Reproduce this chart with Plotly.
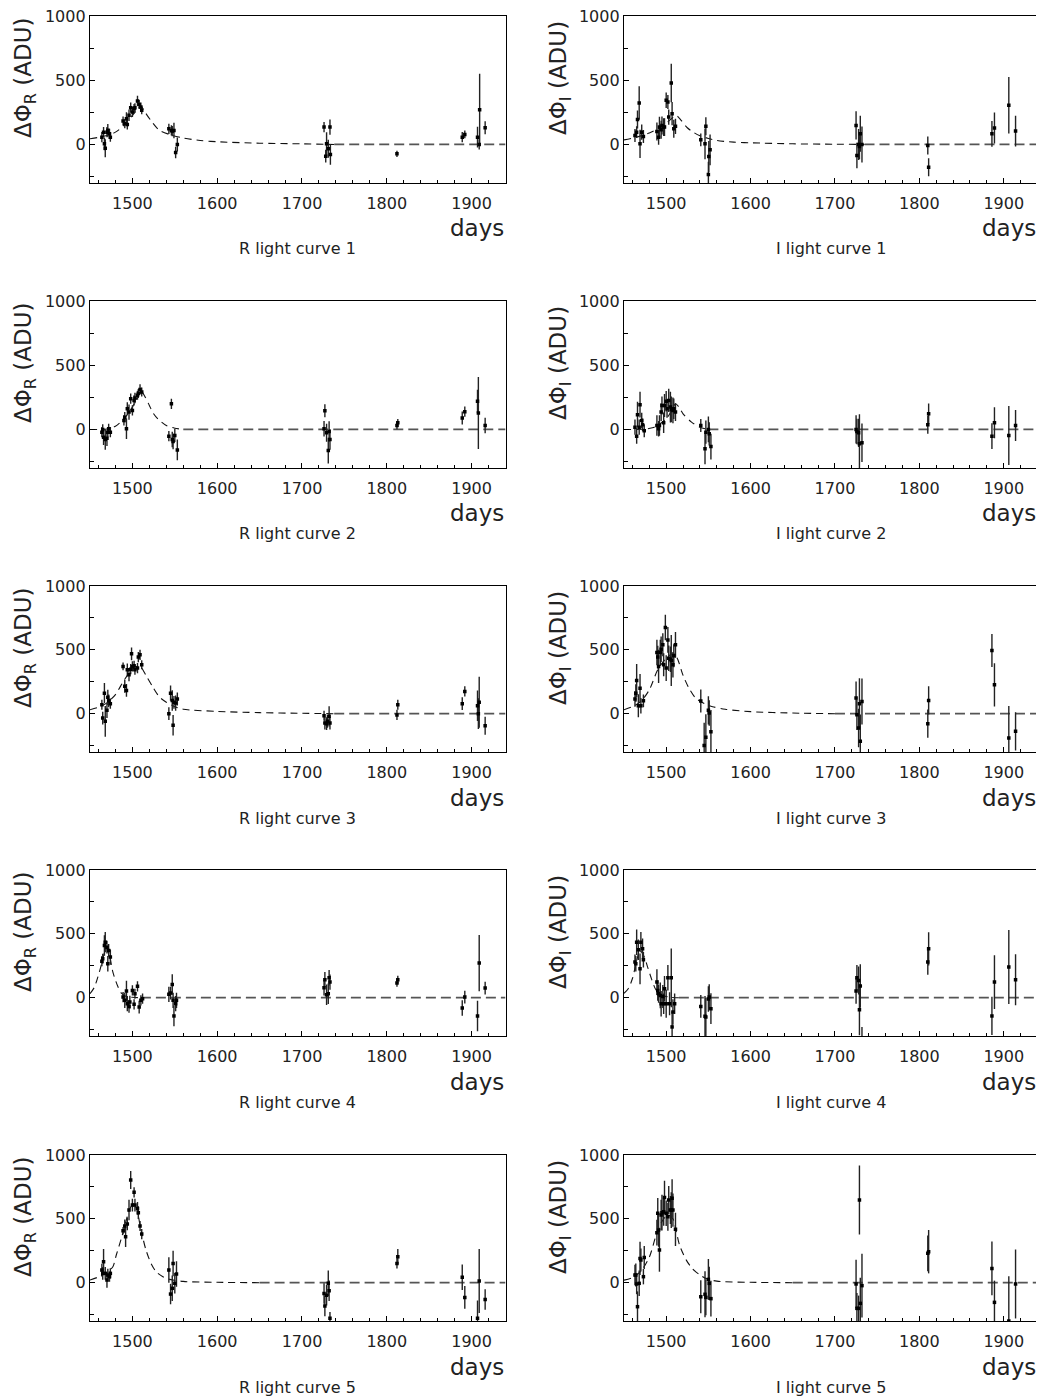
import plotly.graph_objects as go

# ---------------- data (days, delta flux, error) ----------------
R1_t = [1464,1466,1467,1468,1470,1471,1473,1474, 1489,1491,1493,1494,1496,1498,1500,1502,1503,1506,1508,1510,1511, 1543,1546,1547,1549,1551,1553, 1726,1728,1729,1731,1733,1733.5, 1812, 1889,1892, 1907,1909,1909.5, 1916]
R1_f = [57,96,5,-29,96,110,83,57, 182,161,200,156,227,286,253,279,286,339,312,292,266, 122,109,104,109,-62,0, 135,-91,5,-34,135,-78, -73, 57,78, 57,0,270, 130]
R1_e = [40,40,50,70,40,50,40,35, 35,35,50,40,45,40,40,35,35,40,35,35,30, 40,40,40,60,45,55, 40,50,90,70,60,80, 25, 40,30, 80,40,280, 50]
R1_ct = [1450,1460,1470,1480,1490,1500,1505,1510,1516,1524,1532,1545,1560,1580,1600,1650,1700,1738,1940]
R1_cf = [44,55,70,96,148,226,265,297,240,167,109,75,50,31,21,10,5,0,0]

I1_t = [1463,1465,1466,1468,1469,1471,1473, 1489,1491,1492,1494,1495,1497,1498,1500,1502,1503,1506,1507,1509,1511, 1541,1546,1547,1550,1550.5,1552, 1725,1726,1728,1729,1730,1732, 1810,1811, 1886,1889, 1906, 1914]
I1_f = [70,96,195,323,5,96,62, 101,57,135,115,148,135,135,344,331,213,479,240,122,141, 36,5,141,-234,-94,-42, 148,-86,0,-16,83,0, -8,-177, 83,128, 305, 104]
I1_e = [50,45,70,130,110,60,50, 70,60,80,70,70,70,70,60,55,60,150,90,70,60, 50,120,70,100,120,120, 110,100,120,100,140,140, 70,70, 100,120, 220, 120]
I1_ct = [1450,1465,1480,1490,1500,1508,1512,1518,1525,1532,1540,1550,1560,1580,1600,1650,1700,1735,1940]
I1_cf = [36,57,90,120,165,210,225,185,130,96,68,47,31,18,13,5,2,0,0]

R2_t = [1464,1465,1466,1468,1470,1471,1472,1474, 1490,1491,1493,1494,1496,1498,1500,1502,1503,1506,1507,1509,1511, 1543,1546,1547,1548,1550,1553, 1726,1727,1729,1731,1732,1733, 1812,1813, 1889,1892, 1907,1908, 1916]
R2_f = [-21,0,-60,-78,-68,-21,5,-21, 70,96,5,161,135,240,148,226,245,266,279,312,292, -52,200,-78,-94,-47,-159, 5,146,-26,-164,-16,-78, 31,52, 89,138, 219,128, 31]
R2_e = [40,40,60,80,60,40,40,40, 40,40,80,50,60,40,40,40,40,35,35,40,35, 40,40,60,60,50,80, 60,50,70,100,80,80, 30,30, 50,40, 90,280, 60]
R2_ct = [1450,1470,1480,1485,1490,1495,1500,1505,1510,1515,1520,1525,1530,1540,1550,1560,1940]
R2_cf = [0,3,25,50,83,125,174,240,300,253,187,122,83,31,10,0,0]

I2_t = [1463,1465,1466,1468,1469,1471,1472,1474, 1489,1491,1492,1494,1495,1497,1498,1500,1501,1503,1505,1506,1508,1509,1511, 1541,1546,1547,1550,1551,1553, 1725,1726,1728,1729,1732, 1810,1811, 1886,1889, 1906, 1914]
I2_f = [18,-52,115,18,193,70,36,-10, 31,5,31,135,187,52,187,219,161,226,174,156,148,161,135, 31,-151,-21,0,-34,-133, 0,-16,-26,-112,-104, 36,122, -52,52, -47, 31]
I2_e = [60,60,100,60,100,60,50,50, 80,60,80,70,70,80,90,80,70,90,120,100,100,80,70, 50,120,90,100,90,100, 110,100,110,230,150, 70,80, 100,120, 230, 120]
I2_ct = [1450,1475,1485,1490,1500,1505,1511,1515,1520,1530,1540,1550,1940]
I2_cf = [0,3,15,31,83,130,200,175,122,57,18,0,0]

R3_t = [1464,1465,1467,1468,1470,1471,1472,1474, 1489,1491,1493,1494,1496,1498,1499,1500,1502,1503,1506,1507,1509,1511, 1543,1545,1547,1548,1549,1551,1553, 1726,1727,1729,1730,1732,1733, 1812,1813, 1889,1892, 1907,1908,1909, 1916]
R3_f = [70,-34,161,-60,26,128,101,78, 370,214,182,344,305,349,469,370,375,344,357,443,461,383, 0,161,104,-91,89,83,115, -16,-73,-78,-60,-21,-73, -10,70, 78,174, 62,0,89, -94]
R3_e = [40,50,80,120,60,60,50,40, 30,50,50,50,50,40,50,40,40,40,40,40,40,35, 50,60,80,80,50,60,50, 40,50,50,50,80,50, 40,40, 50,40, 120,120,200, 70]
R3_ct = [1450,1460,1470,1480,1490,1500,1506,1510,1516,1524,1532,1540,1550,1560,1600,1650,1700,1738,1940]
R3_cf = [31,50,85,150,260,350,372,365,300,210,130,90,55,35,18,8,3,0,0]

I3_t = [1463,1464,1465,1467,1469,1470,1473, 1489,1490,1491,1493,1494,1496,1497,1499,1500,1502,1503,1505,1506,1508,1509,1511, 1541,1545,1547,1550,1551,1553, 1725,1726,1728,1729,1730,1732, 1810,1811, 1886,1889, 1906, 1914]
I3_f = [115,161,260,62,200,62,101, 479,443,370,479,505,539,383,675,357,578,435,427,417,383,453,539, 99,-250,-185,26,5,-141, 122,-8,-112,78,-216,96, -78,104, 495,226, -190, -138]
I3_e = [60,70,130,90,110,60,50, 100,90,130,100,100,90,90,100,100,100,100,100,200,100,90,100, 90,180,180,110,100,170, 130,120,150,200,210,180, 110,110, 130,170, 250, 150]
I3_ct = [1450,1460,1470,1480,1490,1500,1505,1510,1514,1520,1527,1535,1545,1555,1570,1600,1650,1700,1940]
I3_cf = [31,55,96,187,344,435,461,470,420,300,200,122,80,55,35,16,5,0,0]

R4_t = [1464,1465,1467,1468,1470,1471,1472,1474, 1489,1491,1493,1494,1496,1497,1500,1502,1503,1506,1508,1510,1512, 1543,1545,1547,1548,1549,1551,1552, 1726,1727,1729,1731,1732,1733, 1812,1813, 1889,1892, 1907,1909, 1916]
R4_f = [286,305,409,435,396,266,370,318, 5,-21,52,-47,-68,-34,57,-52,31,89,-73,-21,-8, 26,36,104,-21,-143,-47,-21, 78,141,23,31,156,122, 115,141, -81,5, -143,271, 75]
R4_e = [40,40,80,80,50,60,50,60, 40,60,80,60,50,50,40,40,40,40,50,40,40, 60,50,80,60,80,60,60, 60,60,80,80,60,60, 30,30, 60,50, 120,220, 50]
R4_ct = [1450,1455,1461,1465,1469,1473,1477,1483,1487,1492,1500,1510,1940]
R4_cf = [31,80,200,300,390,330,200,85,35,12,3,0,0]

I4_t = [1463,1464,1465,1467,1469,1470,1472,1473, 1489,1490,1491,1493,1494,1496,1497,1498,1500,1502,1504,1506,1507,1508,1510, 1541,1546,1547,1550,1551,1553, 1725,1726,1728,1729,1730,1732, 1810,1811, 1886,1889, 1906, 1914]
I4_f = [279,266,435,375,226,435,383,297, 122,57,31,18,-47,10,-47,70,-47,156,-47,156,-229,-112,-47, -68,-146,-151,-10,5,-86, 52,156,135,-94,91,-330, 279,383, -143,122, 240, 141]
I4_e = [60,60,100,80,120,80,80,60, 100,80,70,100,100,90,80,100,110,100,90,230,120,100,80, 90,160,150,100,100,120, 100,100,110,200,170,100, 100,130, 150,210, 290, 200]
I4_ct = [1450,1455,1460,1465,1469,1474,1478,1483,1488,1495,1505,1515,1940]
I4_cf = [35,70,150,290,370,320,240,140,60,20,3,0,0]

R5_t = [1464,1465,1466,1468,1470,1471,1473,1474, 1489,1491,1492,1494,1496,1498,1500,1502,1503,1506,1507,1509,1511, 1543,1545,1547,1548,1550,1552, 1726,1727,1729,1731,1732,1733, 1812,1813, 1889,1892, 1907,1909, 1916]
R5_f = [99,73,164,73,21,60,47,73, 407,444,360,460,569,804,608,708,608,582,548,444,381, 99,-89,-44,151,-5,68, -84,-183,-99,-5,-63,-279, 151,204, 42,-115, -279,13, -131]
R5_e = [50,50,100,50,60,50,40,40, 30,50,80,50,80,70,50,40,50,50,50,40,40, 100,80,100,100,80,100, 80,80,80,100,80,50, 40,60, 100,90, 140,250, 80]
R5_ct = [1450,1460,1470,1477,1481,1487,1492,1497,1501,1505,1509,1512,1516,1522,1528,1536,1544,1560,1600,1650,1940]
R5_cf = [21,45,80,125,217,347,470,580,615,580,450,360,256,151,86,47,26,10,3,0,0]

I5_t = [1463,1464,1465,1466,1468,1469,1470,1473,1474, 1489,1490,1491,1492,1494,1495,1497,1498,1500,1502,1503,1505,1506,1507,1508,1511, 1541,1546,1547,1550,1551,1553, 1725,1726,1728,1729,1730,1732, 1810,1811, 1886,1889, 1906, 1914]
I5_f = [60,60,-10,-188,-5,190,178,47,198, 392,543,412,256,530,548,556,668,543,517,647,569,569,661,569,418, -110,-91,-115,26,-5,-125, -10,-201,-201,647,-162,-23, 230,243, 112,-154, -300, -10]
I5_e = [80,90,80,120,100,130,90,60,90, 100,120,130,170,120,140,110,130,100,110,110,110,140,150,130,130, 130,180,140,160,130,140, 190,120,100,270,200,250, 140,170, 210,170, 350, 270]
I5_ct = [1450,1460,1470,1480,1488,1495,1502,1508,1512,1516,1524,1531,1540,1548,1560,1600,1650,1940]
I5_cf = [20,40,90,200,370,480,530,500,400,290,175,110,60,30,12,3,0,0]

X_TICKS = [1500, 1600, 1700, 1800, 1900]
Y_TICKS = [0, 500, 1000]

panels = [
    ("R", 1, R1_t, R1_f, R1_e, R1_ct, R1_cf),
    ("I", 1, I1_t, I1_f, I1_e, I1_ct, I1_cf),
    ("R", 2, R2_t, R2_f, R2_e, R2_ct, R2_cf),
    ("I", 2, I2_t, I2_f, I2_e, I2_ct, I2_cf),
    ("R", 3, R3_t, R3_f, R3_e, R3_ct, R3_cf),
    ("I", 3, I3_t, I3_f, I3_e, I3_ct, I3_cf),
    ("R", 4, R4_t, R4_f, R4_e, R4_ct, R4_cf),
    ("I", 4, I4_t, I4_f, I4_e, I4_ct, I4_cf),
    ("R", 5, R5_t, R5_f, R5_e, R5_ct, R5_cf),
    ("I", 5, I5_t, I5_f, I5_e, I5_ct, I5_cf),
]

# ---------------- layout geometry (page pixels; page body has an 8px margin) ----------------
OFF = 8
W, H = 1044 - OFF, 1400 - OFF
COL_X = [(90, 505.5), (624, 1037.5)]
ROW_Y = [(16, 183), (301, 468), (586, 752), (870, 1036), (1155, 1321)]
TITLE_X = [25, 560]
FONT = "DejaVu Sans"
TXT = "#222222"


def px(x):
    return min(1.0, max(0.0, (x - OFF) / W))


def py(y):
    return min(1.0, max(0.0, 1 - (y - OFF) / H))


fig = go.Figure()
layout = dict(
    width=W, height=H, margin=dict(l=0, r=0, t=0, b=0, autoexpand=False),
    paper_bgcolor="white", plot_bgcolor="white", showlegend=False,
    font=dict(family=FONT, color=TXT),
    annotations=[],
)

for k, (band, num, t, f, e, ct, cf) in enumerate(panels, start=1):
    row, col = (k - 1) // 2, (k - 1) % 2
    x0, x1 = COL_X[col]
    top, bot = ROW_Y[row]
    xa = "x" if k == 1 else f"x{k}"
    ya = "y" if k == 1 else f"y{k}"

    # model curve: fine dashes over the bump, coarser dashes on the flat baseline after it
    iz = max(i for i, v in enumerate(cf) if v != 0) + 1
    fig.add_trace(go.Scatter(x=ct[:iz + 1], y=cf[:iz + 1], mode="lines", xaxis=xa, yaxis=ya,
                             line=dict(color="#111111", width=1.1, dash="7px,5px", shape="spline", smoothing=0.8),
                             hoverinfo="skip"))
    fig.add_trace(go.Scatter(x=ct[iz:], y=cf[iz:], mode="lines", xaxis=xa, yaxis=ya,
                             line=dict(color="#555555", width=1.7, dash="10px,5px"),
                             hoverinfo="skip"))
    # data points with error bars
    fig.add_trace(go.Scatter(x=t, y=f, mode="markers", xaxis=xa, yaxis=ya,
                             marker=dict(symbol="square", size=3.5, color="black"),
                             error_y=dict(type="data", array=e, visible=True, color="#222222",
                                          thickness=1.4, width=0)))

    axis_common = dict(showgrid=False, zeroline=False, showline=True, mirror=True, automargin=False,
                       linecolor="black", linewidth=1.3, ticks="inside", tickcolor="black",
                       ticklabeloverflow="allow",
                       tickfont=dict(family=FONT, size=16, color=TXT))
    layout["xaxis" if k == 1 else f"xaxis{k}"] = dict(
        axis_common, domain=[px(x0), px(x1)], range=[1450, 1940], anchor=ya,
        tickmode="array", tickvals=X_TICKS, ticklen=5, ticklabelstandoff=6,
        minor=dict(ticks="inside", dtick=20, tick0=1500, ticklen=3, tickcolor="black"))
    layout["yaxis" if k == 1 else f"yaxis{k}"] = dict(
        axis_common, domain=[py(bot), py(top)], range=[-300, 1000], anchor=xa,
        tickmode="array", tickvals=Y_TICKS, ticklen=5,
        minor=dict(ticks="inside", dtick=250, tick0=0, ticklen=4, tickcolor="black"))

    # y-axis title
    layout["annotations"].append(dict(
        text=f"ΔΦ<sub>{band}</sub> (ADU)", xref="paper", yref="paper",
        x=px(TITLE_X[col]), y=py(top + 62), textangle=-90, showarrow=False,
        xanchor="center", yanchor="middle", font=dict(family=FONT, size=23, color=TXT)))
    # "days"
    layout["annotations"].append(dict(
        text="days", xref="paper", yref="paper", x=px(x1), y=py(top + 212),
        showarrow=False, xanchor="right", yanchor="middle",
        font=dict(family=FONT, size=23, color=TXT)))
    # caption
    layout["annotations"].append(dict(
        text=f"{band} light curve {num}", xref="paper", yref="paper",
        x=px((x0 + x1) / 2), y=py(top + 232), showarrow=False,
        xanchor="center", yanchor="middle", font=dict(family=FONT, size=16, color=TXT)))

fig.update_layout(**layout)
fig.write_html("out.html")
